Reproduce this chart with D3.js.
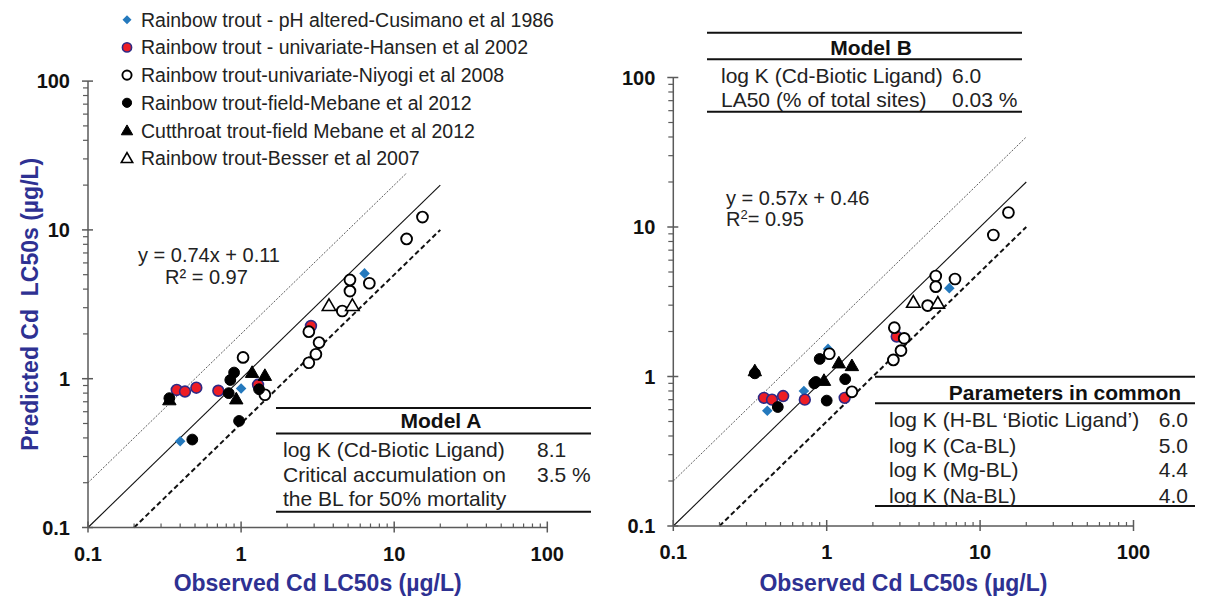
<!DOCTYPE html>
<html>
<head>
<meta charset="utf-8">
<script src="https://cdn.jsdelivr.net/npm/d3@7"></script>
<style>
  html, body { margin: 0; padding: 0; background: #fff; }
  svg { display: block; font-family: "Liberation Sans", Arial, sans-serif; }
</style>
</head>
<body>
<svg id="chart" width="1211" height="603"></svg>
<script>
// ---- Data: [observed, predicted] Cd LC50s (µg/L) ----
const seriesNames = [
  "Rainbow trout - pH altered-Cusimano et al 1986",
  "Rainbow trout - univariate-Hansen et al 2002",
  "Rainbow trout-univariate-Niyogi et al 2008",
  "Rainbow trout-field-Mebane et al 2012",
  "Cutthroat trout-field Mebane et al 2012",
  "Rainbow trout-Besser et al 2007"
];

// Model A
const cusimanoA = [[0.40, 0.38], [0.71, 0.82], [1.0, 0.86], [6.4, 5.1]];
const hansenA   = [[0.38, 0.84], [0.43, 0.82], [0.51, 0.87], [0.71, 0.83], [1.29, 0.91], [2.86, 2.26]];
const niyogiA   = [[1.03, 1.39], [1.43, 0.78], [2.77, 1.28], [3.08, 1.46], [3.23, 1.75], [2.77, 2.07],
                   [4.58, 2.85], [5.14, 3.88], [5.14, 4.61], [6.88, 4.38], [12.05, 8.69], [15.3, 12.2]];
const mebaneRbA = [[0.34, 0.74], [0.48, 0.39], [0.83, 0.80], [0.85, 0.98], [0.90, 1.10], [0.97, 0.52], [1.31, 0.85]];
const mebaneCtA = [[0.34, 0.72], [0.93, 0.73], [1.18, 1.10], [1.43, 1.05]];
const besserA   = [[3.75, 3.10], [5.33, 3.10]];

// Model B
const cusimanoB = [[0.41, 0.59], [0.71, 0.80], [1.02, 1.53], [6.3, 3.9]];
const hansenB   = [[0.39, 0.72], [0.44, 0.70], [0.52, 0.74], [0.72, 0.70], [1.31, 0.72], [2.86, 1.85]];
const niyogiB   = [[1.04, 1.42], [1.46, 0.79], [2.76, 2.12], [3.2, 1.80], [3.05, 1.49], [2.72, 1.29],
                   [4.55, 2.98], [5.14, 4.70], [5.14, 3.99], [6.86, 4.49], [12.2, 8.84], [15.3, 12.5]];
const mebaneRbB = [[0.34, 1.05], [0.48, 0.625], [0.83, 0.90], [0.85, 0.92], [0.90, 1.31], [1.0, 0.69], [1.32, 0.96]];
const mebaneCtB = [[0.34, 1.09], [0.96, 0.94], [1.2, 1.23], [1.46, 1.18]];
const besserB   = [[3.67, 3.13], [5.3, 3.09]];

// Reference lines: 1:1, 2x over and 2x under predictions
const lineOneToOne = [[0.1, 0.1], [20, 20]];
const lineTwiceOver = [[0.1, 0.2], [20, 40]];
const lineTwiceUnder = [[0.2, 0.1], [20, 10]];

const majorTicks = [0.1, 1, 10, 100];
const tickLabels = ["0.1", "1", "10", "100"];

const eqA = ["y = 0.74x + 0.11", "R² = 0.97"];
const eqB = ["y = 0.57x + 0.46", "R", "2", "= 0.95"];

const tableAHeader = "Model A";
const tableARows = [["log K (Cd-Biotic Ligand)", "8.1"], ["Critical accumulation on", "3.5 %"], ["the BL for 50% mortality", ""]];
const tableBHeader = "Model B";
const tableBRows = [["log K (Cd-Biotic Ligand)", "6.0"], ["LA50 (% of total sites)", "0.03 %"]];
const commonHeader = "Parameters in common";
const commonRows = [["log K (H-BL \u2018Biotic Ligand\u2019)", "6.0"], ["log K (Ca-BL)", "5.0"], ["log K (Mg-BL)", "4.4"], ["log K (Na-BL)", "4.0"]];

const xTitle = "Observed Cd LC50s (µg/L)";
const yTitle = "Predicted Cd\u00a0 LC50s (µg/L)";

// ---- Drawing ----
const svg = d3.select("#chart");
const titleColor = "#2e3192";
const axisColor = "#5a5a5a";

const styles = [
  { kind: "diamond", fill: "#2479bd", stroke: "none" },
  { kind: "circle", fill: "#ee1d25", stroke: "#2e2a86", sw: 1.6 },
  { kind: "circle", fill: "#fff", stroke: "#000", sw: 1.9 },
  { kind: "circle", fill: "#000", stroke: "#000", sw: 1 },
  { kind: "triangle", fill: "#000", stroke: "#000", sw: 1 },
  { kind: "triangle", fill: "#fff", stroke: "#000", sw: 1.6 }
];

function marker(g, st, cx, cy, scale) {
  scale = scale || 1;
  if (st.kind === "circle") {
    g.append("circle").attr("cx", cx).attr("cy", cy).attr("r", 5.4 * scale)
      .attr("fill", st.fill).attr("stroke", st.stroke).attr("stroke-width", st.sw);
  } else if (st.kind === "diamond") {
    g.append("path").attr("d", d3.symbol().type(d3.symbolSquare).size(56 * scale * scale)())
      .attr("transform", `translate(${cx},${cy}) rotate(45)`)
      .attr("fill", st.fill);
  } else {
    g.append("path").attr("d", d3.symbol().type(d3.symbolTriangle).size(78 * scale * scale)())
      .attr("transform", `translate(${cx},${cy + 1})`)
      .attr("fill", st.fill).attr("stroke", st.stroke).attr("stroke-width", st.sw)
      .attr("stroke-linejoin", "miter");
  }
}

function panel(opts) {
  const x = d3.scaleLog().domain([0.1, 100]).range(opts.xr);
  const y = d3.scaleLog().domain([0.1, 100]).range(opts.yr);
  const g = svg.append("g");
  const minors = [];
  for (const d of [0.1, 1, 10]) for (let k = 2; k <= 9; k++) minors.push(d * k);

  // reference lines
  const line = d3.line().x(d => x(d[0])).y(d => y(d[1]));
  g.append("path").attr("d", line(lineTwiceOver)).attr("fill", "none")
    .attr("stroke", "#333").attr("stroke-width", 0.8).attr("stroke-dasharray", "2,1.5");
  g.append("path").attr("d", line(lineOneToOne)).attr("fill", "none")
    .attr("stroke", "#111").attr("stroke-width", 1.1);
  g.append("path").attr("d", line(lineTwiceUnder)).attr("fill", "none")
    .attr("stroke", "#111").attr("stroke-width", 2).attr("stroke-dasharray", "5,3");

  // axes
  const ax = g.append("g").attr("stroke", axisColor).attr("stroke-width", 1.5);
  ax.append("line").attr("x1", x(0.1)).attr("x2", x(100)).attr("y1", y(0.1)).attr("y2", y(0.1));
  ax.append("line").attr("x1", x(0.1)).attr("x2", x(0.1)).attr("y1", y(0.1)).attr("y2", y(100));
  ax.selectAll(".xm").data(minors).join("line")
    .attr("x1", d => x(d)).attr("x2", d => x(d)).attr("y1", y(0.1)).attr("y2", y(0.1) - 4).attr("stroke-width", 1.2);
  ax.selectAll(".xM").data(majorTicks).join("line")
    .attr("x1", d => x(d)).attr("x2", d => x(d)).attr("y1", y(0.1) - 6).attr("y2", y(0.1) + 5);
  ax.selectAll(".ym").data(minors).join("line")
    .attr("y1", d => y(d)).attr("y2", d => y(d)).attr("x1", x(0.1)).attr("x2", x(0.1) - 5).attr("stroke-width", 1.2);
  ax.selectAll(".yM").data(majorTicks).join("line")
    .attr("y1", d => y(d)).attr("y2", d => y(d)).attr("x1", x(0.1) - 6).attr("x2", x(0.1) + 5);

  g.selectAll(".xl").data(majorTicks).join("text")
    .attr("x", d => x(d)).attr("y", y(0.1) + 33).attr("text-anchor", "middle")
    .attr("font-size", 20).attr("font-weight", "bold").attr("fill", "#111")
    .text((d, i) => tickLabels[i]);
  g.selectAll(".yl").data(majorTicks).join("text")
    .attr("x", x(0.1) - 18).attr("y", d => y(d) + 7).attr("text-anchor", "end")
    .attr("font-size", 20).attr("font-weight", "bold").attr("fill", "#111")
    .text((d, i) => tickLabels[i]);

  g.append("text").attr("x", (opts.xr[0] + opts.xr[1]) / 2).attr("y", 591)
    .attr("text-anchor", "middle").attr("font-size", 23).attr("font-weight", "bold")
    .attr("fill", titleColor).text(xTitle);

  // data series
  const pts = g.append("g");
  opts.series.forEach((s, i) => {
    s.forEach(d => marker(pts, styles[i], x(d[0]), y(d[1])));
  });
  return { x, y, g };
}

const A = panel({
  xr: [88, 547.3], yr: [527.5, 81.1],
  series: [cusimanoA, hansenA, niyogiA, mebaneRbA, mebaneCtA, besserA]
});
const B = panel({
  xr: [673.3, 1133.5], yr: [526, 77.5],
  series: [cusimanoB, hansenB, niyogiB, mebaneRbB, mebaneCtB, besserB]
});

// y-axis title (left panel)
svg.append("text")
  .attr("transform", `translate(38,${(527.5 + 81.1) / 2}) rotate(-90)`)
  .attr("text-anchor", "middle").attr("font-size", 23).attr("font-weight", "bold")
  .attr("fill", titleColor).text(yTitle);

// legend (white box over the plot area)
const leg = svg.append("g");
leg.append("rect").attr("x", 100).attr("y", 0).attr("width", 470).attr("height", 173).attr("fill", "#fff");
seriesNames.forEach((name, i) => {
  const by = 26.7 + i * 27.7;
  marker(leg, styles[i], 127, by - 7, 0.85);
  leg.append("text").attr("x", 141).attr("y", by).attr("font-size", 19.5).attr("fill", "#222").text(name);
});

// regression equations
svg.append("text").attr("x", 138).attr("y", 261.5).attr("font-size", 20).attr("fill", "#222").text(eqA[0]);
svg.append("text").attr("x", 165).attr("y", 283.5).attr("font-size", 20).attr("fill", "#222").text(eqA[1]);
svg.append("text").attr("x", 726).attr("y", 205).attr("font-size", 20).attr("fill", "#222").text(eqB[0]);
const r2 = svg.append("text").attr("x", 726).attr("y", 226).attr("font-size", 20).attr("fill", "#222");
r2.append("tspan").text(eqB[1]);
r2.append("tspan").attr("font-size", 13).attr("dy", -7).text(eqB[2]);
r2.append("tspan").attr("dy", 7).text(eqB[3]);

// parameter tables
function table(t) {
  const g = svg.append("g");
  t.lines.forEach(ly => g.append("line").attr("x1", t.x1).attr("x2", t.x2).attr("y1", ly).attr("y2", ly)
    .attr("stroke", "#111").attr("stroke-width", 2));
  g.append("text").attr("x", t.hx).attr("y", t.hy).attr("text-anchor", "middle")
    .attr("font-size", 21).attr("font-weight", "bold").attr("fill", "#111").text(t.header);
  t.rows.forEach((r, i) => {
    g.append("text").attr("x", t.tx).attr("y", t.ry[i]).attr("font-size", 21).attr("fill", "#222").text(r[0]);
    g.append("text").attr("x", t.vx).attr("y", t.ry[i]).attr("font-size", 21).attr("fill", "#222")
      .attr("text-anchor", t.vAnchor || "start").text(r[1]);
  });
}

table({ x1: 276, x2: 591, lines: [408, 433.5, 511.7], header: tableAHeader, hx: 441, hy: 428,
  rows: tableARows, tx: 283, vx: 537, ry: [457, 482, 506] });
table({ x1: 707, x2: 1022, lines: [32.7, 59.3, 111.7], header: tableBHeader, hx: 871, hy: 55,
  rows: tableBRows, tx: 721, vx: 952, ry: [83.3, 107.3] });
table({ x1: 875, x2: 1195, lines: [376.7, 403.3, 506], header: commonHeader, hx: 1065, hy: 399.5,
  rows: commonRows, tx: 889, vx: 1188, vAnchor: "end", ry: [426.7, 452.7, 477.3, 502.7] });
</script>
</body>
</html>
